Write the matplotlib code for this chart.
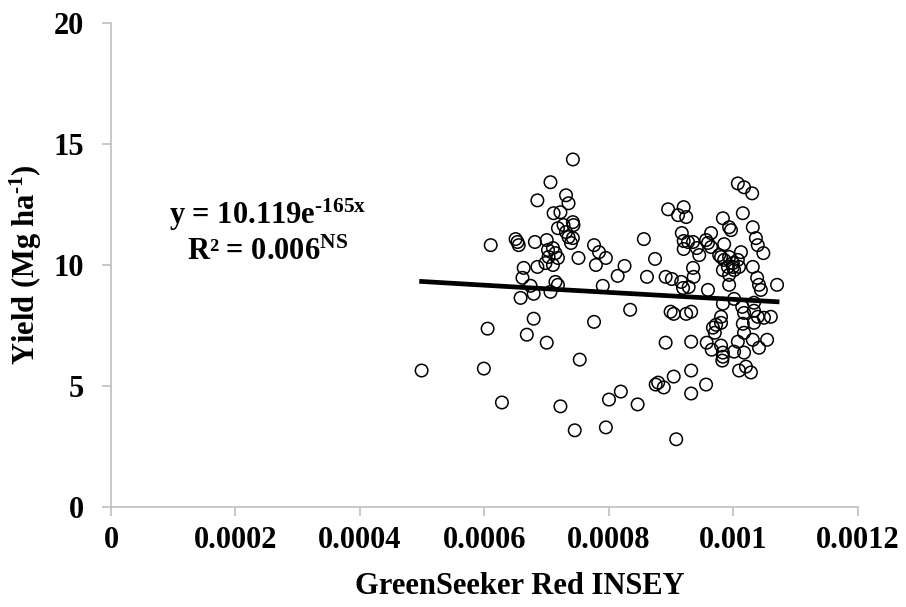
import numpy as np
from matplotlib import pyplot as plt

# GreenSeeker Red INSEY vs grain yield
insey = [0.000499, 0.000599, 0.000605, 0.000610, 0.000628, 0.000650, 0.000653, 0.000655,
         0.000658, 0.000661, 0.000663, 0.000668, 0.000674, 0.000679, 0.000679, 0.000681,
         0.000685, 0.000685, 0.000700, 0.000700, 0.000702, 0.000703, 0.000698, 0.000706,
         0.000706, 0.000710, 0.000710, 0.000711, 0.000714, 0.000714, 0.000718, 0.000718,
         0.000718, 0.000722, 0.000722, 0.000727, 0.000731, 0.000731, 0.000735, 0.000735,
         0.000739, 0.000742, 0.000742, 0.000742, 0.000743, 0.000745, 0.000751, 0.000753,
         0.000776, 0.000776, 0.000779, 0.000784, 0.000790, 0.000795, 0.000795, 0.000800,
         0.000814, 0.000819, 0.000825, 0.000834, 0.000846, 0.000856, 0.000861, 0.000874,
         0.000875, 0.000879, 0.000888, 0.000891, 0.000895, 0.000891, 0.000901, 0.000899,
         0.000904, 0.000904, 0.000908, 0.000911, 0.000916, 0.000919, 0.000920, 0.000924,
         0.000917, 0.000920, 0.000927, 0.000920, 0.000924, 0.000928, 0.000932, 0.000932,
         0.000932, 0.000932, 0.000935, 0.000936, 0.000935, 0.000941, 0.000945, 0.000956,
         0.000959, 0.000964, 0.000964, 0.000957, 0.000956, 0.000959, 0.000965, 0.000967,
         0.000970, 0.000972, 0.000977, 0.000980, 0.000980, 0.000980, 0.000980, 0.000983,
         0.000983, 0.000983, 0.000983, 0.000983, 0.000982, 0.000985, 0.000985, 0.000991,
         0.000993, 0.000993, 0.000993, 0.000993, 0.000996, 0.000999, 0.000999, 0.001001,
         0.001001, 0.001001, 0.001007, 0.001007, 0.001007, 0.001009, 0.001012, 0.001014,
         0.001015, 0.001015, 0.001017, 0.001017, 0.001017, 0.001017, 0.001020, 0.001028,
         0.001030, 0.001031, 0.001031, 0.001033, 0.001031, 0.001033, 0.001036, 0.001039,
         0.001038, 0.001041, 0.001044, 0.001039, 0.001049, 0.001060, 0.001041, 0.001048,
         0.001054, 0.001070, 0.001009, 0.001033]
yld = [5.64, 5.72, 7.37, 10.82, 4.32, 11.07, 10.95, 10.82,
       8.64, 9.47, 9.88, 7.12, 9.14, 8.81, 7.78, 10.95,
       12.67, 9.92, 6.79, 11.03, 10.62, 10.33, 10.08, 13.42,
       8.89, 10.70, 10.00, 12.14, 10.49, 9.30, 10.29, 9.18,
       11.52, 4.16, 12.18, 11.65, 12.88, 11.36, 12.55, 11.15,
       10.91, 14.36, 11.77, 11.11, 11.65, 3.17, 10.29, 6.09,
       10.82, 7.65, 10.00, 10.53, 9.14, 10.29, 3.29, 4.44,
       9.55, 4.77, 9.96, 8.15, 4.24, 11.07, 9.51, 10.25,
       5.06, 5.14, 4.94, 6.79, 12.30, 9.51, 9.42, 8.07,
       7.98, 5.39, 2.80, 12.06, 9.30, 9.05, 12.39, 11.98,
       11.32, 10.99, 10.95, 10.66, 7.98, 9.09, 8.07, 6.83,
       5.64, 4.69, 9.88, 9.51, 10.95, 10.70, 10.41, 11.03,
       10.91, 11.32, 10.74, 6.79, 5.06, 8.97, 6.50, 7.41,
       7.20, 7.53, 10.41, 10.33, 7.86, 7.61, 6.67, 11.93,
       9.79, 8.40, 6.38, 6.21, 6.05, 10.86, 10.21, 9.92,
       11.56, 10.33, 9.59, 9.18, 11.44, 10.08, 9.92, 9.79,
       8.60, 6.42, 13.37, 10.21, 6.83, 5.64, 10.53, 8.27,
       12.14, 7.57, 8.02, 7.20, 6.38, 13.21, 5.80, 5.56,
       12.96, 11.56, 9.92, 7.61, 6.91, 8.44, 11.11, 10.82,
       9.47, 9.18, 8.97, 7.86, 7.82, 7.86, 6.58, 10.49,
       6.91, 9.18, 9.92, 8.11]

# exponential trendline y = a*exp(b*x)
a_fit = 10.119
b_fit = -165.0

xticks = [0, 0.0002, 0.0004, 0.0006, 0.0008, 0.001, 0.0012]
xticklabels = ['0', '0.0002', '0.0004', '0.0006', '0.0008', '0.001', '0.0012']
yticks = [0, 5, 10, 15, 20]

plt.rcParams['font.family'] = ['Liberation Serif', 'DejaVu Serif']
plt.rcParams['font.weight'] = 'bold'
plt.rcParams['mathtext.fontset'] = 'custom'
plt.rcParams['mathtext.rm'] = 'Liberation Serif:bold'
plt.rcParams['mathtext.it'] = 'Liberation Serif:bold'
plt.rcParams['mathtext.bf'] = 'Liberation Serif:bold'

fig = plt.figure(figsize=(9.06, 6.07), dpi=100)
ax = fig.add_axes([0.1225, 0.1647, 0.8245, 0.7975])

ax.scatter(insey, yld, s=81, facecolors='none', edgecolors='black', linewidths=1.1, zorder=3)

xs = np.linspace(min(insey), max(insey), 100)
ax.plot(xs, a_fit * np.exp(b_fit * xs), color='black', lw=3.4, zorder=4)

ax.set_xlim(0, 0.0012)
ax.set_ylim(0, 20)
ax.set_xticks(xticks)
ax.set_xticklabels(xticklabels)
ax.set_yticks(yticks)

for s in ['top', 'right']:
    ax.spines[s].set_visible(False)
for s in ['left', 'bottom']:
    ax.spines[s].set_color('#BFBFBF')
    ax.spines[s].set_linewidth(1.2)
ax.tick_params(axis='both', direction='out', length=6.5, width=1.2, color='#BFBFBF',
               labelsize=22)
ax.tick_params(axis='x', pad=7)
ax.tick_params(axis='y', pad=13)

ax.set_xlabel('GreenSeeker Red INSEY', fontsize=22, fontweight='bold')
ax.set_ylabel(r'Yield (Mg ha$^{\text{-1}}$)', fontsize=22, fontweight='bold')
ax.xaxis.set_label_coords(0.547, -0.135)
ax.yaxis.set_label_coords(-0.09, 0.5)

ax.text(0.000252, 11.69, r'y = 10.119e$^{\text{-165x}}$', fontsize=22, fontweight='bold',
        ha='center', va='baseline')
ax.text(0.000252, 10.2, 'R² = 0.006$^{NS}$', fontsize=22, fontweight='bold',
        ha='center', va='baseline')

fig.savefig('out.png', dpi=100)
